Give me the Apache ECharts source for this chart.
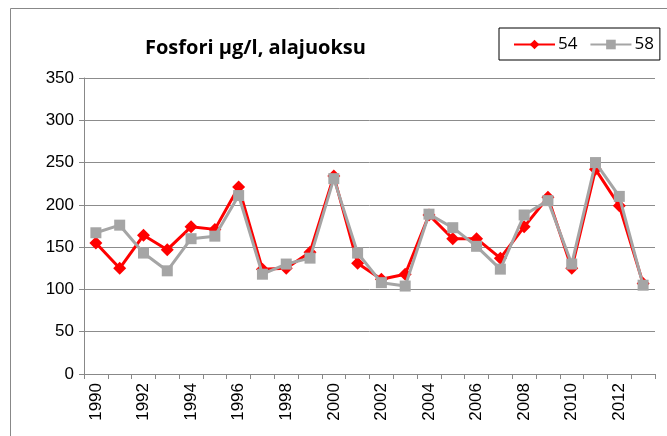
<!DOCTYPE html>
<html>
<head>
<meta charset="utf-8">
<script src="https://cdn.jsdelivr.net/npm/echarts@6/dist/echarts.min.js"></script>
<style>
  html, body { margin: 0; padding: 0; background: #fff; }
</style>
</head>
<body>
<div id="chart" style="width:667px;height:436px;"></div>
<script>
    // vuodet
    var years = ['1990', '1991', '1992', '1993', '1994', '1995', '1996', '1997', '1998', '1999', '2000', '2001',
                 '2002', '2003', '2004', '2005', '2006', '2007', '2008', '2009', '2010', '2011', '2012', '2013'];
    // paikka 54
    var s54 = [155, 125, 164, 147, 174, 171, 221, 124, 125, 144, 234, 131,
               112, 118, 188, 160, 160, 137, 174, 209, 125, 242, 199, 107];
    // paikka 58
    var s58 = [167, 176, 143, 122, 160, 163, 211, 118, 130, 137, 231, 143,
               108, 104, 189, 173, 151, 124, 188, 205, 130, 250, 210, 105];
    var yTicks = [0, 50, 100, 150, 200, 250, 300, 350];

    var myChart = echarts.init(document.getElementById('chart'));
    var option = {
        animation: false,
        title: {
            text: 'Fosfori µg/l, alajuoksu',
            left: 140,
            top: 33,
            textStyle: { fontFamily: 'Open Sans', fontWeight: 'bold', fontSize: 20, color: '#000' }
        },
        legend: {
            data: ['54', '58'],
            left: 499,
            top: 28,
            padding: [8, 6, 7, 14],
            borderColor: '#000',
            borderWidth: 1,
            itemWidth: 41,
            itemHeight: 12,
            itemGap: 12,
            textStyle: { fontFamily: 'Open Sans', fontSize: 17, color: '#000', padding: [0, 0, 0, -2] }
        },
        graphic: [{
            type: 'rect',
            shape: { x: 10.5, y: 8.5, width: 680, height: 440 },
            style: { fill: 'none', stroke: '#888', lineWidth: 1 },
            z: -1
        }],
        grid: { left: 84, right: 12, top: 78, bottom: 62 },
        xAxis: {
            type: 'category',
            data: years,
            boundaryGap: true,
            axisLine: { lineStyle: { color: '#888', width: 1 } },
            axisTick: { show: true, length: 5, interval: 0, lineStyle: { color: '#888' } },
            axisLabel: {
                interval: 1,
                rotate: 90,
                margin: 9,
                fontFamily: 'Liberation Sans',
                fontSize: 17,
                color: '#000'
            }
        },
        yAxis: {
            type: 'value',
            min: yTicks[0],
            max: yTicks[yTicks.length - 1],
            interval: 50,
            axisLine: { show: true, lineStyle: { color: '#888', width: 1 } },
            axisTick: { show: true, length: 5, inside: false, lineStyle: { color: '#888' } },
            splitLine: { lineStyle: { color: '#8c8c8c', width: 1 } },
            axisLabel: {
                margin: 10,
                fontFamily: 'Liberation Sans',
                fontSize: 17,
                color: '#000'
            }
        },
        series: [{
            name: '54',
            type: 'line',
            data: s54,
            symbol: 'diamond',
            symbolSize: 13,
            itemStyle: { color: '#ff0000' },
            lineStyle: { color: '#ff0000', width: 3 },
            z: 2
        }, {
            name: '58',
            type: 'line',
            data: s58,
            symbol: 'rect',
            symbolSize: 11,
            itemStyle: { color: '#a5a5a5' },
            lineStyle: { color: '#a5a5a5', width: 3 },
            z: 3
        }]
    };
    myChart.setOption(option, true);
</script>
</body>
</html>
